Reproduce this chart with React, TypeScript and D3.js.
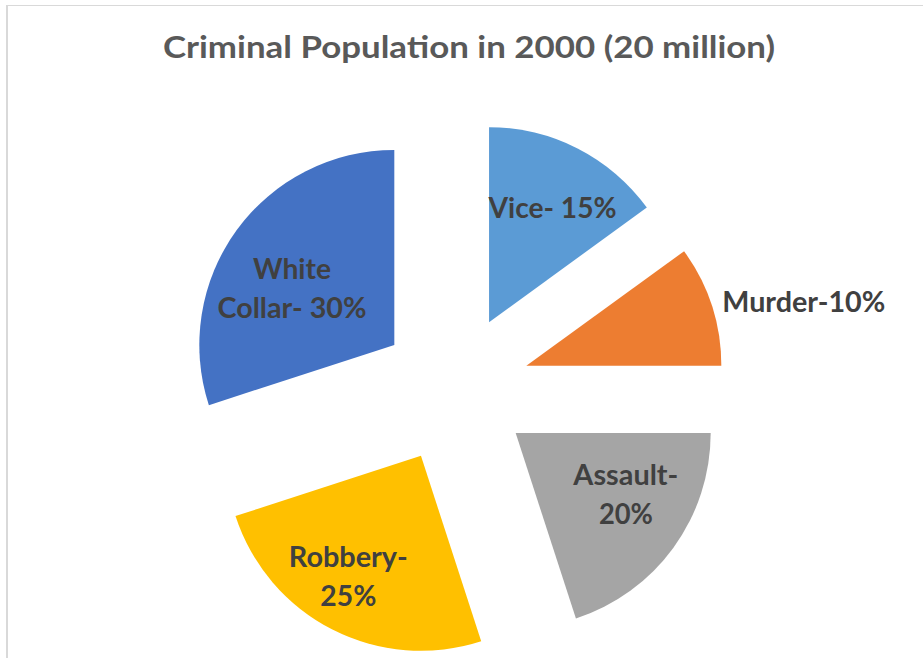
import React from "react";
import * as d3 from "d3";

const categories = ["Vice", "Murder", "Assault", "Robbery", "White Collar"];
const values = [15, 10, 20, 25, 30];
const labelLines = [["Vice- 15%"], ["Murder-10%"], ["Assault-", "20%"], ["Robbery-", "25%"], ["White", "Collar- 30%"]];
const colors = ["#5B9BD5", "#ED7D31", "#A5A5A5", "#FFC000", "#4472C4"];
const titleText = "Criminal Population in 2000 (20 million)";

const W = 923;
const H = 658;
const cx = 455;
const cy = 389;
const R = 195;
const explode = 75;
// label layout (not data): angle offset in degrees, radius, rendered line widths
const labelAngleNudge = [2, 0, -7, 4, -7];
const labelRadius = [131, 0, 126, 141, 117];
const labelWidths = [[128], [163], [105, 54], [119, 56], [78, 149]];
const FONT = "Lato, Carlito, 'Open Sans', sans-serif";

export default function App() {
  const pie = d3.pie<number>().sort(null).value((d) => d);
  const arcs = pie(values);
  const arc = d3.arc<d3.PieArcDatum<number>>().innerRadius(0).outerRadius(R);
  const lineH = 39;
  const fs = 28;

  return (
    <div style={{ position: "absolute", left: 0, top: 0 }}>
      <svg width={W} height={H} style={{ display: "block", background: "#fff" }}>
        <line x1={7} y1={5} x2={7} y2={H + 5} stroke="#d9d9d9" strokeWidth={2} />
        <line x1={6} y1={5.5} x2={W + 5} y2={5.5} stroke="#d9d9d9" strokeWidth={1} />
        <text
          x={469}
          y={58}
          textAnchor="middle"
          fontFamily={FONT}
          fontWeight="bold"
          fontSize={30}
          fill="#595959"
          textLength={612}
          lengthAdjust="spacingAndGlyphs"
        >
          {titleText}
        </text>
        {arcs.map((a, i) => {
          const mid = (a.startAngle + a.endAngle) / 2;
          const ox = cx + explode * Math.sin(mid);
          const oy = cy - explode * Math.cos(mid);
          return (
            <g key={categories[i]} transform={`translate(${ox},${oy})`}>
              <path d={arc(a) || ""} fill={colors[i]} />
            </g>
          );
        })}
        {arcs.map((a, i) => {
          const mid = (a.startAngle + a.endAngle) / 2;
          const ox = cx + explode * Math.sin(mid);
          const oy = cy - explode * Math.cos(mid);
          const lines = labelLines[i];
          if (i === 1) {
            const lx = ox + (R + 10) * Math.sin(mid);
            const ly = oy - (R + 10) * Math.cos(mid);
            return (
              <text
                key={"l" + i}
                x={lx + 1}
                y={ly + 10}
                textAnchor="start"
                fontFamily={FONT}
                fontWeight="bold"
                fontSize={fs}
                fill="#404040"
                textLength={labelWidths[i][0]}
                lengthAdjust="spacingAndGlyphs"
              >
                {lines[0]}
              </text>
            );
          }
          const ang = mid + (labelAngleNudge[i] * Math.PI) / 180;
          const lx = ox + labelRadius[i] * Math.sin(ang);
          const ly = oy - labelRadius[i] * Math.cos(ang);
          const top = ly - ((lines.length - 1) * lineH) / 2;
          return (
            <g key={"l" + i}>
              {lines.map((t, j) => (
                <text
                  key={j}
                  x={lx}
                  y={top + j * lineH + 10}
                  textAnchor="middle"
                  fontFamily={FONT}
                  fontWeight="bold"
                  fontSize={fs}
                  fill="#404040"
                  textLength={labelWidths[i][j]}
                  lengthAdjust="spacingAndGlyphs"
                >
                  {t}
                </text>
              ))}
            </g>
          );
        })}
      </svg>
    </div>
  );
}
